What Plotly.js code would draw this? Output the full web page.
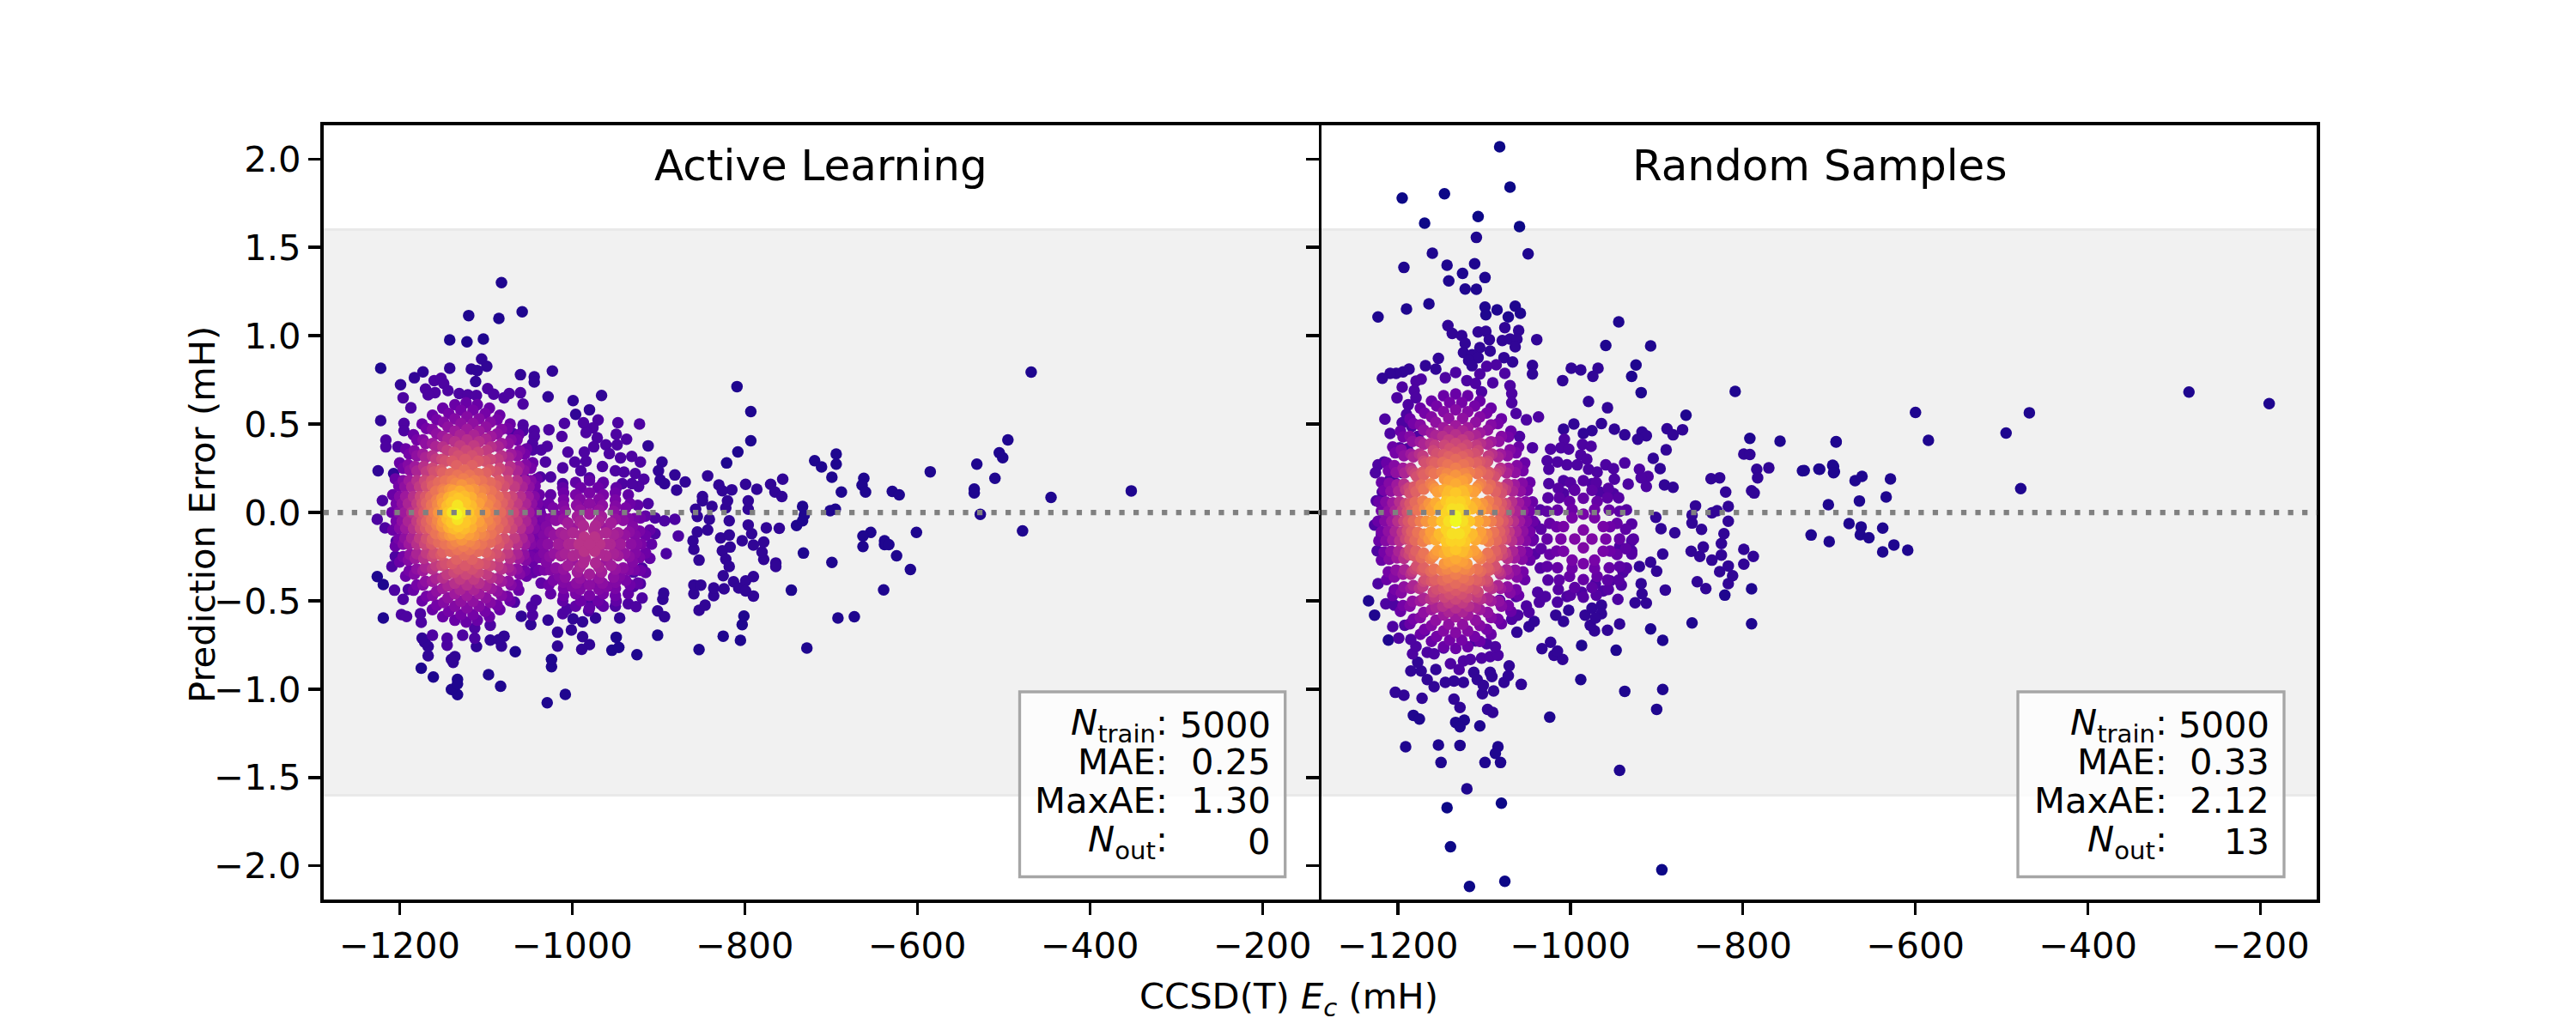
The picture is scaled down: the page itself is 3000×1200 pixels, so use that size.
<!DOCTYPE html>
<html>
<head>
<meta charset="utf-8">
<script src="https://cdn.plot.ly/plotly-3.0.1.min.js"></script>
<style>html,body{margin:0;padding:0;background:#fff}</style>
</head>
<body>
<div id="chart" style="width:3000px;height:1200px"></div>
<script>
// values, [CCSD(T) Ec, error] in mH, one list per colour level
const xTicks = [-1200, -1000, -800, -600, -400, -200];
const yTicks = [-2, -1.5, -1, -0.5, 0, 0.5, 1, 1.5, 2];
const bandLimit = 1.6;

const activeFar = [[-1082,1.30],[-1120,1.114],[-1085,1.098],[-1058,1.135],[-1142,.976],[-1122,.965],[-1103,.981],[-1222,.816],[-809,.712],[-793,.571],[-793,.406],[-808,.342],[-821,.28],[-468,.794],[-495,.41],[-505,.338],[-501,.31],[-531,.273],[-510,.193],[-534,.132],[-534,.111],[-585,.23],[-445,.085],[-352,.122],[-478,-.104],[-527,-.011],[-662,.193],[-664,.154],[-660,.115],[-629,.119],[-621,.1],[-601,-.113],[-654,-.113],[-663,-.134],[-663,-.193],[-638,-.16],[-638,-.182],[-633,-.182],[-624,-.245],[-608,-.323],[-639,-.438],[-673,-.59],[-692,-.597],[-1029,-1.077],[-1008,-1.03],[-1133,-1.031],[-1140,-1.002],[-1133,-.945],[-1133,-.97],[-1083,-.983],[-1097,-.918],[-1161,-.931],[-1175,-.881],[-1024,-.873],[-1024,-.832],[-1066,-.788],[-1219,-.597],[-954,-.78],[-946,-.764],[-949,-.706],[-925,-.805],[-901,-.695],[-853,-.776],[-825,-.70],[-805,-.724],[-803,-.635],[-801,-.586],[-728,-.767],[-746,-.44],[-732,-.23],[-699,-.283],[-719,.293],[-711,.257],[-694,.330],[-694,.273],[-699,.199],[-701,.01],[-695,.018],[-740,-.074],[-733,-.047],[-731,-.015],[-733,.034],[-688,.115],[-1226,-.363],[-1219,-.408]];
const activeEdge = [[-1105,.868],[-1099,.827],[-1142,.816],[-1117,.811],[-1110,.803],[-1112,.741],[-1173,.795],[-1183,.762],[-1199,.722],[-1060,.779],[-1044,.767],[-1044,.738],[-1023,.800],[-1028,.654],[-999,.633],[-966,.662],[-980,.581],[-996,.555],[-1222,.520],[-1225,.236],[-1207,.220],[-912,.377],[-896,.285],[-900,.236],[-898,.184],[-893,.163],[-881,.212],[-869,.172],[-879,.126],[-843,.207],[-830,.155],[-815,.128],[-799,.159],[-786,.131],[-770,.159],[-756,.188],[-765,.115],[-757,.09],[-849,.09],[-826,.123],[-1167,-.811],[-1138,-.849],[-1136,-.816],[-1140,-.832],[-1111,-.759],[-1082,-.756],[-1095,-.722],[-1079,-.70],[-1085,-.72],[-1167,-.759],[-1171,-.735],[-1174,-.711],[-1059,-.588],[-1048,-.635],[-1028,-.609],[-1017,-.678],[-1001,-.665],[-1017,-.756],[-988,-.703],[-980,-.748],[-989,-.775],[-999,-.602],[-988,-.619],[-973,-.597],[-945,-.597],[-901,-.557],[-893,-.59],[-895,-.492],[-894,-.457],[-853,-.554],[-846,-.525],[-859,-.46],[-859,-.411],[-851,-.411],[-836,-.471],[-836,-.427],[-824,-.432],[-813,-.392],[-807,-.427],[-799,-.387],[-790,-.363],[-799,-.444],[-790,-.473],[-764,-.286],[-764,-.306],[-778,-.266],[-780,-.225],[-778,-.168],[-790,-.185],[-803,-.16],[-792,-.12],[-796,-.071],[-796,.018],[-796,.066],[-775,-.087],[-760,-.09],[-853,-.27],[-859,-.209],[-860,-.16],[-855,-.11],[-843,-.1],[-828,-.144],[-818,-.128],[-817,-.196],[-826,-.217],[-822,-.265],[-818,-.306],[-825,-.358],[-857,.018],[-855,-.023],[-849,.066],[-838,.034],[-841,-.039],[-822,.026],[-820,.066],[-818,-.047]];
const activeInner = [[-1160,.746],[-1152,.759],[-1149,.730],[-1196,.649],[-1170,.698],[-1159,.678],[-1167,.665],[-1144,.690],[-1131,.673],[-1121,.665],[-1111,.662],[-1098,.701],[-1091,.669],[-1079,.649],[-1073,.673],[-1060,.677],[-1057,.613],[-1187,.592],[-1195,.504],[-1195,.463],[-1216,.409],[-1216,.371],[-1202,.371],[-1009,.504],[-987,.507],[-970,.523],[-976,.479],[-984,.452],[-971,.422],[-947,.508],[-922,.500],[-949,.442],[-937,.414],[-1027,.468],[-1012,.430],[-1057,.495],[-1057,.463],[-1044,.463],[-1044,.430],[-1069,.447],[-1046,.390],[-1046,.353],[-1036,.353],[-1029,.374],[-1005,.341],[-986,.341],[-975,.371],[-961,.382],[-957,.333],[-948,.382],[-944,.309],[-931,.317],[-921,.285],[-1046,.28],[-1031,.285],[-1037,.2],[-1025,.2],[-1053,.25],[-1057,.21],[-1011,.252],[-997,.285],[-990,.236],[-984,.29],[-965,.26],[-950,.236],[-940,.228],[-927,.22],[-917,.188],[-923,.147],[-1011,.163],[-980,.195],[-965,.163],[-942,.163],[-931,.163],[-1198,-.578],[-1192,-.589],[-1175,-.622],[-1176,-.573],[-1162,-.695],[-1145,-.751],[-1145,-.711],[-1127,-.695],[-1113,-.711],[-1113,-.654],[-1206,-.44],[-1196,-.492],[-1190,-.436],[-1217,-.087],[-1226,-.039],[-1204,-.163],[-1205,-.249],[-1209,-.306],[-1220,.067],[-1095,-.638],[-1046,-.581],[-1047,-.533],[-1042,-.497],[-1067,-.508],[-1011,-.573],[-1006,-.546],[-981,-.557],[-967,-.517],[-978,-.504],[-950,-.53],[-935,-.517],[-926,-.533],[-919,-.484],[-881,-.039],[-893,-.047],[-904,-.031],[-877,-.133],[-891,-.233],[-904,-.12],[-912,.05],[-919,-.314],[-929,-.338],[-929,-.419],[-921,-.403]];

const activeLow = [[-1037,0],[-1038,.10],[-1041,.19],[-1046,.28],[-1053,.36],[-1062,.44],[-1072,.50],[-1084,.55],[-1096,.59],[-1110,.61],[-1123,.62],[-1136,.61],[-1150,.59],[-1162,.55],[-1174,.50],[-1184,.44],[-1193,.36],[-1200,.28],[-1205,.19],[-1208,.10],[-1209,0],[-1208,-.10],[-1205,-.19],[-1200,-.28],[-1193,-.36],[-1184,-.44],[-1174,-.50],[-1162,-.55],[-1150,-.59],[-1136,-.61],[-1123,-.62],[-1110,-.61],[-1096,-.59],[-1084,-.55],[-1072,-.50],[-1062,-.44],[-1053,-.36],[-1046,-.28],[-1041,-.19],[-1038,-.10]];
const activeFill23 = [[-1040,.05],[-1043,.15],[-1048,.25],[-1055,.33],[-1064,.41],[-1075,.475],[-1087,.525],[-1101,.56],[-1115,.578],[-1204,.05],[-1201,.15],[-1196,.25],[-1189,.33],[-1180,.41],[-1169,.475],[-1157,.525],[-1143,.56],[-1129,.578],[-1204,-.05],[-1201,-.15],[-1196,-.25],[-1189,-.33],[-1180,-.41],[-1169,-.475],[-1157,-.525],[-1143,-.56],[-1129,-.578],[-1040,-.05],[-1043,-.15],[-1048,-.25],[-1055,-.33],[-1064,-.41],[-1075,-.475],[-1087,-.525],[-1101,-.56],[-1115,-.578]];
const activeRing27 = [[-1043,0],[-1044,.09],[-1048,.18],[-1054,.27],[-1061,.35],[-1071,.41],[-1082,.47],[-1095,.51],[-1108,.53],[-1122,.54],[-1136,.53],[-1149,.51],[-1162,.47],[-1173,.41],[-1183,.35],[-1190,.27],[-1196,.18],[-1200,.09],[-1201,0],[-1200,-.09],[-1196,-.18],[-1190,-.27],[-1183,-.35],[-1173,-.41],[-1162,-.47],[-1149,-.51],[-1136,-.53],[-1122,-.54],[-1108,-.53],[-1095,-.51],[-1082,-.47],[-1071,-.41],[-1061,-.35],[-1054,-.27],[-1048,-.18],[-1044,-.09]];
const activeFill30 = [[-1047,.05],[-1050,.146],[-1056,.238],[-1064,.32],[-1074,.39],[-1087,.445],[-1100,.483],[-1115,.503],[-1197,.05],[-1194,.146],[-1188,.238],[-1180,.32],[-1170,.39],[-1157,.445],[-1144,.483],[-1129,.503],[-1197,-.05],[-1194,-.146],[-1188,-.238],[-1180,-.32],[-1170,-.39],[-1157,-.445],[-1144,-.483],[-1129,-.503],[-1047,-.05],[-1050,-.146],[-1056,-.238],[-1064,-.32],[-1074,-.39],[-1087,-.445],[-1100,-.483],[-1115,-.503]];
const activeRing34 = [[-1050,0],[-1051,.09],[-1055,.18],[-1062,.26],[-1071,.33],[-1082,.39],[-1094,.43],[-1108,.46],[-1122,.47],[-1136,.46],[-1150,.43],[-1162,.39],[-1173,.33],[-1182,.26],[-1189,.18],[-1193,.09],[-1194,0],[-1193,-.09],[-1189,-.18],[-1182,-.26],[-1173,-.33],[-1162,-.39],[-1150,-.43],[-1136,-.46],[-1122,-.47],[-1108,-.46],[-1094,-.43],[-1082,-.39],[-1071,-.33],[-1062,-.26],[-1055,-.18],[-1051,-.09]];
const activeFill38 = [[-1054,.05],[-1058,.145],[-1064,.234],[-1074,.311],[-1086,.373],[-1100,.415],[-1114,.437],[-1190,.05],[-1186,.145],[-1180,.234],[-1170,.311],[-1158,.373],[-1144,.415],[-1130,.437],[-1190,-.05],[-1186,-.145],[-1180,-.234],[-1170,-.311],[-1158,-.373],[-1144,-.415],[-1130,-.437],[-1054,-.05],[-1058,-.145],[-1064,-.234],[-1074,-.311],[-1086,-.373],[-1100,-.415],[-1114,-.437]];
const activeRing42 = [[-1058,0],[-1060,.09],[-1064,.18],[-1072,.26],[-1082,.32],[-1094,.37],[-1108,.40],[-1122,.41],[-1136,.40],[-1150,.37],[-1162,.32],[-1172,.26],[-1180,.18],[-1184,.09],[-1186,0],[-1184,-.09],[-1180,-.18],[-1172,-.26],[-1162,-.32],[-1150,-.37],[-1136,-.40],[-1122,-.41],[-1108,-.40],[-1094,-.37],[-1082,-.32],[-1072,-.26],[-1064,-.18],[-1060,-.09]];
const activeFill46 = [[-1064,.05],[-1067,.146],[-1075,.231],[-1086,.301],[-1099,.351],[-1114,.377],[-1180,.05],[-1177,.146],[-1169,.231],[-1158,.301],[-1145,.351],[-1130,.377],[-1180,-.05],[-1177,-.146],[-1169,-.231],[-1158,-.301],[-1145,-.351],[-1130,-.377],[-1064,-.05],[-1067,-.146],[-1075,-.231],[-1086,-.301],[-1099,-.351],[-1114,-.377]];
const activeRing50 = [[-1068,0],[-1070,.09],[-1075,.18],[-1084,.25],[-1095,.30],[-1109,.34],[-1123,.35],[-1137,.34],[-1151,.30],[-1162,.25],[-1171,.18],[-1176,.09],[-1178,0],[-1176,-.09],[-1171,-.18],[-1162,-.25],[-1151,-.30],[-1137,-.34],[-1123,-.35],[-1109,-.34],[-1095,-.30],[-1084,-.25],[-1075,-.18],[-1070,-.09]];
const activeFill53 = [[-1074,.05],[-1079,.148],[-1088,.23],[-1101,.29],[-1116,.32],[-1174,.05],[-1169,.148],[-1160,.23],[-1147,.29],[-1132,.32],[-1174,-.05],[-1169,-.148],[-1160,-.23],[-1147,-.29],[-1132,-.32],[-1074,-.05],[-1079,-.148],[-1088,-.23],[-1101,-.29],[-1116,-.32]];
const activeRing56 = [[-1076,0],[-1078,.09],[-1085,.18],[-1096,.24],[-1109,.29],[-1124,.30],[-1139,.29],[-1152,.24],[-1163,.18],[-1170,.09],[-1172,0],[-1170,-.09],[-1163,-.18],[-1152,-.24],[-1139,-.29],[-1124,-.30],[-1109,-.29],[-1096,-.24],[-1085,-.18],[-1078,-.09]];
const activeFill59 = [[-1081,.053],[-1088,.15],[-1100,.224],[-1116,.265],[-1169,.053],[-1162,.15],[-1150,.224],[-1134,.265],[-1169,-.053],[-1162,-.15],[-1150,-.224],[-1134,-.265],[-1081,-.053],[-1088,-.15],[-1100,-.224],[-1116,-.265]];
const activeRing62 = [[-1083,0],[-1086,.09],[-1095,.17],[-1109,.22],[-1125,.24],[-1141,.22],[-1155,.17],[-1164,.09],[-1167,0],[-1164,-.09],[-1155,-.17],[-1141,-.22],[-1125,-.24],[-1109,-.22],[-1095,-.17],[-1086,-.09]];
const activeFill65 = [[-1089,.042],[-1094,.12],[-1105,.179],[-1119,.21],[-1163,.042],[-1158,.12],[-1147,.179],[-1133,.21],[-1163,-.042],[-1158,-.12],[-1147,-.179],[-1133,-.21],[-1089,-.042],[-1094,-.12],[-1105,-.179],[-1119,-.21]];
const activeRing68 = [[-1092,0],[-1095,.07],[-1102,.13],[-1113,.18],[-1126,.19],[-1139,.18],[-1150,.13],[-1157,.07],[-1160,0],[-1157,-.07],[-1150,-.13],[-1139,-.18],[-1126,-.19],[-1113,-.18],[-1102,-.13],[-1095,-.07]];
const activeFill71 = [[-1098,.044],[-1106,.12],[-1119,.164],[-1156,.044],[-1148,.12],[-1135,.164],[-1156,-.044],[-1148,-.12],[-1135,-.164],[-1098,-.044],[-1106,-.12],[-1119,-.164]];
const activeRing75 = [[-1101,0],[-1105,.08],[-1114,.13],[-1128,.155],[-1142,.13],[-1151,.08],[-1155,0],[-1151,-.08],[-1142,-.13],[-1128,-.155],[-1114,-.13],[-1105,-.08]];
const activeFill78 = [[-1108,.052],[-1120,.125],[-1150,.052],[-1138,.125],[-1150,-.052],[-1138,-.125],[-1108,-.052],[-1120,-.125]];
const activeRing82 = [[-1111,0],[-1117,.085],[-1130,.12],[-1143,.085],[-1149,0],[-1143,-.085],[-1130,-.12],[-1117,-.085]];
const activeFill85 = [[-1117,.038],[-1125,.092],[-1145,.038],[-1137,.092],[-1145,-.038],[-1137,-.092],[-1117,-.038],[-1125,-.092]];
const activeRing88 = [[-1120,0],[-1124,.057],[-1132,.08],[-1140,.057],[-1144,0],[-1140,-.057],[-1132,-.08],[-1124,-.057]];
const activeRing95 = [[-1128,0],[-1133,.04],[-1139,0],[-1133,-.04]];
const activeCore = [[-1134,-.01]];

const activeSide18 = [[-908,-.18],[-910,-.10],[-915,-.02],[-924,.04],[-935,.10],[-949,.14],[-964,.17],[-980,.18],[-996,.17],[-1011,.14],[-1025,.10],[-1036,.04],[-1045,-.02],[-1050,-.10],[-1052,-.18],[-1050,-.26],[-1045,-.34],[-1036,-.40],[-1025,-.46],[-1011,-.50],[-996,-.53],[-980,-.54],[-964,-.53],[-949,-.50],[-935,-.46],[-924,-.40],[-915,-.34],[-910,-.26]];
const activeSide21 = [[-915,-.13],[-921,-.032],[-933,.05],[-950,.11],[-970,.14],[-1045,-.13],[-1039,-.032],[-1027,.05],[-1010,.11],[-990,.14],[-1045,-.23],[-1039,-.328],[-1027,-.41],[-1010,-.47],[-990,-.50],[-915,-.23],[-921,-.328],[-933,-.41],[-950,-.47],[-970,-.50]];
const activeSide24 = [[-920,-.18],[-922,-.105],[-928,-.035],[-938,.025],[-950,.07],[-964,.10],[-980,.11],[-996,.10],[-1010,.07],[-1022,.025],[-1032,-.035],[-1038,-.105],[-1040,-.18],[-1038,-.255],[-1032,-.325],[-1022,-.385],[-1010,-.43],[-996,-.46],[-980,-.47],[-964,-.46],[-950,-.43],[-938,-.385],[-928,-.325],[-922,-.255]];
const activeSide27 = [[-927,-.13],[-935,-.035],[-950,.036],[-969,.075],[-1033,-.13],[-1025,-.035],[-1010,.036],[-991,.075],[-1033,-.23],[-1025,-.325],[-1010,-.396],[-991,-.435],[-927,-.23],[-935,-.325],[-950,-.396],[-969,-.435],[-1015,-.02],[-945,-.02],[-1030,-.08],[-930,-.08],[-1035,-.18],[-925,-.18],[-1030,-.28],[-930,-.28],[-1015,-.36],[-945,-.36],[-990,.02],[-970,.02],[-990,-.39],[-970,-.39],[-1000,-.42],[-960,-.42]];
const activeSide29 = [[-932,-.18],[-934,-.11],[-941,-.045],[-952,.006],[-965,.04],[-980,.05],[-995,.04],[-1008,.006],[-1019,-.045],[-1026,-.11],[-1028,-.18],[-1026,-.25],[-1019,-.315],[-1008,-.366],[-995,-.40],[-980,-.41],[-965,-.40],[-952,-.366],[-941,-.315],[-934,-.25]];
const activeSide31 = [[-939,-.128],[-950,-.039],[-969,.013],[-1021,-.128],[-1010,-.039],[-991,.013],[-1021,-.232],[-1010,-.321],[-991,-.373],[-939,-.232],[-950,-.321],[-969,-.373]];
const activeSide33 = [[-990,-.06],[-970,-.06],[-1000,-.09],[-960,-.09],[-1010,-.15],[-950,-.15],[-1010,-.21],[-950,-.21],[-1000,-.27],[-960,-.27],[-990,-.30],[-970,-.30]];
const activeSide34 = [[-944,-.18],[-947,-.115],[-955,-.06],[-966,-.023],[-980,-.01],[-994,-.023],[-1005,-.06],[-1013,-.115],[-1016,-.18],[-1013,-.245],[-1005,-.30],[-994,-.337],[-980,-.35],[-966,-.337],[-955,-.30],[-947,-.245]];
const activeSide36 = [[-952,-.126],[-969,-.051],[-1008,-.126],[-991,-.051],[-1008,-.234],[-991,-.309],[-952,-.234],[-969,-.309]];
const activeSide38 = [[-956,-.18],[-961,-.115],[-973,-.075],[-987,-.075],[-999,-.115],[-1004,-.18],[-999,-.245],[-987,-.285],[-973,-.285],[-961,-.245],[-990,-.13],[-970,-.13],[-992,-.23],[-968,-.23],[-975,-.1],[-985,-.26],[-1000,-.18],[-960,-.18]];
const activeSide42 = [[-968,-.18],[-974,-.14],[-986,-.14],[-992,-.18],[-986,-.22],[-974,-.22],[-980,-.18]];

const randomFar = [[-1082,2.069],[-1070,1.841],[-1195,1.779],[-1146,1.803],[-1169,1.637],[-1107,1.674],[-1059,1.617],[-1117,-2.116],[-1076,-2.087],[-894,-2.022],[-1139,-1.892],[-1143,-1.671],[-1080,-1.645]];
const randomOuter = [[-1109,1.556],[-1049,1.463],[-1160,1.467],[-1143,1.399],[-1111,1.407],[-1193,1.386],[-1125,1.353],[-1099,1.329],[-1141,1.31],[-1122,1.264],[-1109,1.263],[-1164,1.18],[-1190,1.151],[-1223,1.106],[-1099,1.162],[-1098,1.118],[-1085,1.146],[-1064,1.167],[-1058,1.127],[-1072,1.106],[-944,1.078],[-959,.945],[-907,.942],[-924,.834],[-929,.77],[-918,.678],[-866,.55],[-809,.685],[-792,.419],[-757,.403],[-1120,-1.564],[-943,-1.459],[-1191,-1.326],[-1153,-1.316],[-1128,-1.318],[-1150,-1.415],[-1099,-1.415],[-1081,-1.415],[-1084,-1.326],[-1087,-1.363],[-1024,-1.158],[-900,-1.114],[-893,-1.002],[-937,-1.012],[-988,-.946],[-1182,-1.148],[-1175,-1.169],[-1133,-1.188],[-1123,-1.175],[-1128,-1.213],[-1105,-1.208],[-859,-.625],[-790,-.63],[-790,-.432],[-821,-.468],[-283,.681],[-190,.616],[-468,.564],[-495,.449],[-478,.135],[-600,.566],[-585,.408],[-692,.401],[-712,.245],[-729,.237],[-696,.267],[-694,.23],[-670,.18],[-662,.204],[-629,.189],[-634,.087],[-665,.065],[-701,.044],[-677,-.063],[-663,-.082],[-638,-.089],[-664,-.126],[-654,-.143],[-721,-.128],[-700,-.165],[-625,-.184],[-638,-.223],[-609,-.214],[-731,.236],[-711,.244],[-695,.26],[-695,.225],[-692,.398],[-1234,-.5],[-1227,-.581],[-1211,-.722],[-907,-.659],[-893,-.724],[-947,-.78],[-987,-.753]];
const randomEdge = [[-1076,1.046],[-1142,1.057],[-1137,1.013],[-1107,1.021],[-1098,1.025],[-1060,1.03],[-1039,.978],[-1126,1.0],[-1094,.978],[-1079,.973],[-1070,.981],[-1062,.981],[-1122,.957],[-1105,.932],[-1093,.913],[-1064,.937],[-1124,.905],[-1114,.892],[-1107,.876],[-1077,.876],[-1067,.851],[-1118,.86],[-1114,.83],[-1153,.872],[-1168,.83],[-1156,.811],[-1187,.811],[-1194,.795],[-1202,.787],[-1209,.787],[-1218,.759],[-1044,.832],[-1044,.783],[-1009,.746],[-999,.816],[-988,.806],[-968,.816],[-974,.77],[-979,.628],[-957,.592],[-964,.503],[-996,.50],[-1008,.471],[-975,.463],[-985,.447],[-949,.471],[-937,.439],[-917,.455],[-912,.434],[-922,.414],[-888,.474],[-881,.439],[-870,.468],[-889,.354],[-904,.306],[-896,.248],[-837,.191],[-827,.196],[-799,.33],[-792,.328],[-770,.252],[-784,.244],[-783,.196],[-820,.115],[-790,.123],[-787,.11],[-891,.155],[-881,.142],[-1096,-1.115],[-1090,-1.132],[-1128,-1.104],[-1135,-1.056],[-1172,-1.051],[-1203,-1.018],[-1193,-1.034],[-1102,-1.026],[-1089,-1.01],[-1077,-.962],[-1057,-.973],[-1072,-.924],[-1071,-.868],[-1093,-.905],[-1091,-.929],[-1112,-.905],[-1124,-.962],[-1108,-.946],[-1101,-.978],[-1135,-.954],[-1145,-.962],[-1158,-.986],[-1166,-.946],[-1185,-.897],[-1173,-.897],[-1156,-.889],[-1177,-.848],[-1062,-.678],[-1048,-.646],[-1042,-.617],[-1033,-.771],[-1023,-.735],[-1019,-.808],[-1009,-.832],[-1015,-.784],[-943,-.631],[-957,-.667],[-972,-.67],[-977,-.638],[-983,-.581],[-975,-.541],[-964,-.525],[-964,-.573],[-971,-.597],[-1008,-.617],[-1002,-.554],[-1017,-.581],[-890,-.439],[-912,-.513],[-925,-.511],[-917,-.46],[-918,-.403],[-900,-.333],[-920,-.306],[-907,-.282],[-893,-.236],[-853,-.392],[-843,-.431],[-817,-.403],[-812,-.358],[-827,-.335],[-817,-.303],[-825,-.241],[-825,-.176],[-822,-.12],[-836,-.27],[-850,-.249],[-860,-.22],[-846,-.196],[-799,-.293],[-788,-.249],[-799,-.209],[-848,-.096],[-859,-.06],[-859,-.015],[-855,.037],[-836,-.002],[-830,.01],[-817,.034],[-817,-.05],[-879,-.115],[-895,-.092],[-901,-.028]];
const randomInner = [[-1076,.787],[-1086,.835],[-1097,.827],[-1105,.783],[-1133,.792],[-1173,.754],[-1179,.743],[-1145,.762],[-1120,.746],[-1110,.73],[-1090,.733],[-1070,.717],[-1195,.709],[-1201,.649],[-1181,.69],[-1179,.649],[-1068,.673],[-1103,.682],[-1068,.62],[-1188,.609],[-1190,.555],[-1215,.528],[-1195,.507],[-1184,.487],[-1209,.447],[-1177,.43],[-1037,.54],[-1051,.524],[-1063,.56],[-1059,.43],[-1044,.366],[-1198,.366],[-1189,.361],[-1216,.285],[-1223,.269],[-1226,.225],[-1209,.188],[-1202,.163],[-1218,.115],[-1195,.225],[-1007,.414],[-986,.385],[-976,.374],[-1023,.358],[-1011,.366],[-1002,.358],[-988,.325],[-981,.301],[-1027,.293],[-1015,.285],[-1004,.269],[-992,.269],[-959,.269],[-950,.248],[-937,.28],[-920,.244],[-979,.244],[-969,.228],[-933,.16],[-910,.204],[-918,.196],[-949,.188],[-912,.147],[-1025,.244],[-1025,.163],[-1008,.18],[-996,.134],[-1008,.107],[-975,.163],[-966,.115],[-950,.107],[-1183,-.8],[-1179,-.759],[-1166,-.792],[-1158,-.8],[-1185,-.719],[-1199,-.711],[-1206,-.646],[-1192,-.638],[-1169,-.67],[-1147,-.767],[-1139,-.856],[-1129,-.889],[-1124,-.84],[-1116,-.832],[-1103,-.824],[-1093,-.816],[-1084,-.808],[-1087,-.76],[-1097,-.743],[-1110,-.727],[-1214,-.517],[-1204,-.525],[-1223,-.403],[-1204,-.439],[-1227,-.071],[-1219,-.128],[-1224,-.217],[-1209,-.249],[-1225,.066],[-1048,-.565],[-1051,-.529],[-1068,-.605],[-1061,-.581],[-1063,-.476],[-1082,-.497],[-1015,-.508],[-1004,-.476],[-987,-.452],[-1036,-.508],[-1029,-.476],[-1038,-.452],[-945,-.492],[-962,-.444],[-954,-.387],[-971,-.403],[-929,-.217],[-929,-.16],[-943,-.193],[-939,-.338],[-941,-.411]];

const randomRing20 = [[-1043,-.05],[-1044,.06],[-1047,.17],[-1053,.28],[-1060,.37],[-1069,.46],[-1080,.53],[-1092,.59],[-1105,.63],[-1119,.66],[-1133,.67],[-1147,.66],[-1161,.63],[-1174,.59],[-1186,.53],[-1197,.46],[-1206,.37],[-1213,.28],[-1219,.17],[-1222,.06],[-1223,-.05],[-1222,-.16],[-1219,-.27],[-1213,-.38],[-1206,-.47],[-1197,-.56],[-1186,-.63],[-1174,-.69],[-1161,-.73],[-1147,-.76],[-1133,-.77],[-1119,-.76],[-1105,-.73],[-1092,-.69],[-1080,-.63],[-1069,-.56],[-1060,-.47],[-1053,-.38],[-1047,-.27],[-1044,-.16]];
const randomFill23 = [[-1047,.009],[-1050,.125],[-1055,.236],[-1063,.337],[-1072,.427],[-1084,.503],[-1097,.562],[-1111,.602],[-1126,.622],[-1219,.009],[-1216,.125],[-1211,.236],[-1203,.337],[-1194,.427],[-1182,.503],[-1169,.562],[-1155,.602],[-1140,.622],[-1219,-.109],[-1216,-.225],[-1211,-.336],[-1203,-.437],[-1194,-.527],[-1182,-.603],[-1169,-.662],[-1155,-.702],[-1140,-.722],[-1047,-.109],[-1050,-.225],[-1055,-.336],[-1063,-.437],[-1072,-.527],[-1084,-.603],[-1097,-.662],[-1111,-.702],[-1126,-.722]];
const randomRing27 = [[-1051,-.05],[-1052,.06],[-1056,.165],[-1062,.265],[-1070,.355],[-1080,.43],[-1092,.495],[-1105,.54],[-1119,.57],[-1133,.58],[-1147,.57],[-1161,.54],[-1174,.495],[-1186,.43],[-1196,.355],[-1204,.265],[-1210,.165],[-1214,.06],[-1215,-.05],[-1214,-.16],[-1210,-.265],[-1204,-.365],[-1196,-.455],[-1186,-.53],[-1174,-.595],[-1161,-.64],[-1147,-.67],[-1133,-.68],[-1119,-.67],[-1105,-.64],[-1092,-.595],[-1080,-.53],[-1070,-.455],[-1062,-.365],[-1056,-.265],[-1052,-.16]];
const randomFill30 = [[-1055,.007],[-1058,.12],[-1064,.226],[-1073,.321],[-1083,.402],[-1096,.466],[-1110,.51],[-1125,.532],[-1211,.007],[-1208,.12],[-1202,.226],[-1193,.321],[-1183,.402],[-1170,.466],[-1156,.51],[-1141,.532],[-1211,-.107],[-1208,-.22],[-1202,-.326],[-1193,-.421],[-1183,-.502],[-1170,-.566],[-1156,-.61],[-1141,-.632],[-1055,-.107],[-1058,-.22],[-1064,-.326],[-1073,-.421],[-1083,-.502],[-1096,-.566],[-1110,-.61],[-1125,-.632]];
const randomRing34 = [[-1059,-.05],[-1060,.055],[-1065,.157],[-1072,.25],[-1081,.33],[-1092,.40],[-1105,.45],[-1119,.48],[-1133,.49],[-1147,.48],[-1161,.45],[-1174,.40],[-1185,.33],[-1194,.25],[-1201,.157],[-1206,.055],[-1207,-.05],[-1206,-.155],[-1201,-.257],[-1194,-.35],[-1185,-.43],[-1174,-.50],[-1161,-.55],[-1147,-.58],[-1133,-.59],[-1119,-.58],[-1105,-.55],[-1092,-.50],[-1081,-.43],[-1072,-.35],[-1065,-.257],[-1060,-.155]];
const randomFill38 = [[-1063,.008],[-1067,.12],[-1074,.224],[-1084,.314],[-1096,.386],[-1110,.436],[-1125,.462],[-1203,.008],[-1199,.12],[-1192,.224],[-1182,.314],[-1170,.386],[-1156,.436],[-1141,.462],[-1203,-.108],[-1199,-.22],[-1192,-.324],[-1182,-.414],[-1170,-.486],[-1156,-.536],[-1141,-.562],[-1063,-.108],[-1067,-.22],[-1074,-.324],[-1084,-.414],[-1096,-.486],[-1110,-.536],[-1125,-.562]];
const randomRing42 = [[-1066,-.05],[-1068,.06],[-1073,.16],[-1081,.25],[-1091,.33],[-1104,.39],[-1118,.43],[-1133,.44],[-1148,.43],[-1162,.39],[-1175,.33],[-1185,.25],[-1193,.16],[-1198,.06],[-1200,-.05],[-1198,-.16],[-1193,-.26],[-1185,-.35],[-1175,-.43],[-1162,-.49],[-1148,-.53],[-1133,-.54],[-1118,-.53],[-1104,-.49],[-1091,-.43],[-1081,-.35],[-1073,-.26],[-1068,-.16]];
const randomFill46 = [[-1071,.011],[-1075,.128],[-1083,.233],[-1095,.319],[-1109,.38],[-1125,.411],[-1195,.011],[-1191,.128],[-1183,.233],[-1171,.319],[-1157,.38],[-1141,.411],[-1195,-.111],[-1191,-.228],[-1183,-.333],[-1171,-.419],[-1157,-.48],[-1141,-.511],[-1071,-.111],[-1075,-.228],[-1083,-.333],[-1095,-.419],[-1109,-.48],[-1125,-.511]];
const randomRing50 = [[-1073,-.05],[-1075,.05],[-1079,.14],[-1086,.22],[-1096,.29],[-1107,.35],[-1120,.38],[-1133,.39],[-1146,.38],[-1159,.35],[-1170,.29],[-1180,.22],[-1187,.14],[-1191,.05],[-1193,-.05],[-1191,-.15],[-1187,-.24],[-1180,-.32],[-1170,-.39],[-1159,-.45],[-1146,-.48],[-1133,-.49],[-1120,-.48],[-1107,-.45],[-1096,-.39],[-1086,-.32],[-1079,-.24],[-1075,-.15]];
const randomFill53 = [[-1077,.004],[-1080,.109],[-1088,.203],[-1098,.279],[-1111,.333],[-1126,.361],[-1189,.004],[-1186,.109],[-1178,.203],[-1168,.279],[-1155,.333],[-1140,.361],[-1189,-.104],[-1186,-.209],[-1178,-.303],[-1168,-.379],[-1155,-.433],[-1140,-.461],[-1077,-.104],[-1080,-.209],[-1088,-.303],[-1098,-.379],[-1111,-.433],[-1126,-.461]];
const randomRing56 = [[-1078,-.05],[-1080,.05],[-1085,.145],[-1094,.226],[-1105,.288],[-1119,.327],[-1133,.34],[-1147,.327],[-1161,.288],[-1172,.226],[-1181,.145],[-1186,.05],[-1188,-.05],[-1186,-.15],[-1181,-.245],[-1172,-.326],[-1161,-.388],[-1147,-.427],[-1133,-.44],[-1119,-.427],[-1105,-.388],[-1094,-.326],[-1085,-.245],[-1080,-.15]];
const randomFill59 = [[-1082,.008],[-1087,.118],[-1096,.212],[-1109,.28],[-1125,.316],[-1184,.008],[-1179,.118],[-1170,.212],[-1157,.28],[-1141,.316],[-1184,-.108],[-1179,-.218],[-1170,-.312],[-1157,-.38],[-1141,-.416],[-1082,-.108],[-1087,-.218],[-1096,-.312],[-1109,-.38],[-1125,-.416]];
const randomRing62 = [[-1084,-.05],[-1086,.058],[-1093,.156],[-1104,.233],[-1118,.283],[-1133,.30],[-1148,.283],[-1162,.233],[-1173,.156],[-1180,.058],[-1182,-.05],[-1180,-.158],[-1173,-.256],[-1162,-.333],[-1148,-.383],[-1133,-.40],[-1118,-.383],[-1104,-.333],[-1093,-.256],[-1086,-.158]];
const randomFill65 = [[-1089,.013],[-1096,.131],[-1108,.22],[-1124,.269],[-1177,.013],[-1170,.131],[-1158,.22],[-1142,.269],[-1177,-.113],[-1170,-.231],[-1158,-.32],[-1142,-.369],[-1089,-.113],[-1096,-.231],[-1108,-.32],[-1124,-.369]];
const randomRing68 = [[-1092,-.05],[-1095,.065],[-1104,.162],[-1117,.227],[-1133,.25],[-1149,.227],[-1162,.162],[-1171,.065],[-1174,-.05],[-1171,-.165],[-1162,-.262],[-1149,-.327],[-1133,-.35],[-1117,-.327],[-1104,-.262],[-1095,-.165]];
const randomFill71 = [[-1097,.022],[-1107,.148],[-1123,.22],[-1169,.022],[-1159,.148],[-1143,.22],[-1169,-.122],[-1159,-.248],[-1143,-.32],[-1097,-.122],[-1107,-.248],[-1123,-.32]];
const randomRing75 = [[-1099,-.05],[-1102,.05],[-1109,.134],[-1120,.19],[-1133,.21],[-1146,.19],[-1157,.134],[-1164,.05],[-1167,-.05],[-1164,-.15],[-1157,-.234],[-1146,-.29],[-1133,-.31],[-1120,-.29],[-1109,-.234],[-1102,-.15]];
const randomFill78 = [[-1104,.011],[-1112,.116],[-1125,.177],[-1162,.011],[-1154,.116],[-1141,.177],[-1162,-.111],[-1154,-.216],[-1141,-.277],[-1104,-.111],[-1112,-.216],[-1125,-.277],[-1107,.033],[-1116,.123],[-1129,.168],[-1159,.033],[-1150,.123],[-1137,.168],[-1159,-.133],[-1150,-.223],[-1137,-.268],[-1107,-.133],[-1116,-.223],[-1129,-.268]];
const randomRing81 = [[-1107,-.05],[-1110,.055],[-1120,.13],[-1133,.16],[-1146,.13],[-1156,.055],[-1159,-.05],[-1156,-.155],[-1146,-.23],[-1133,-.26],[-1120,-.23],[-1110,-.155]];
const randomFill85 = [[-1114,.021],[-1125,.121],[-1152,.021],[-1141,.121],[-1152,-.121],[-1141,-.221],[-1114,-.121],[-1125,-.221],[-1116,.035],[-1123,.097],[-1150,.035],[-1143,.097],[-1150,-.135],[-1143,-.197],[-1116,-.135],[-1123,-.197]];
const randomRing88 = [[-1117,-.05],[-1122,.063],[-1133,.11],[-1144,.063],[-1149,-.05],[-1144,-.163],[-1133,-.21],[-1122,-.163]];
const randomFill91 = [[-1122,-.004],[-1128,.061],[-1144,-.004],[-1138,.061],[-1144,-.096],[-1138,-.161],[-1122,-.096],[-1128,-.161],[-1125,.02],[-1141,.02],[-1141,-.12],[-1125,-.12]];
const randomRing94 = [[-1125,-.05],[-1129,.02],[-1137,.02],[-1141,-.05],[-1137,-.12],[-1129,-.12]];
const randomCore = [[-1133,-.05],[-1133,-.02]];

const randomSide16 = [[-927,-.15],[-929,-.065],[-935,.015],[-944,.083],[-956,.136],[-970,.169],[-985,.18],[-1000,.169],[-1014,.136],[-1026,.083],[-1035,.015],[-1041,-.065],[-1043,-.15],[-1041,-.235],[-1035,-.315],[-1026,-.383],[-1014,-.436],[-1000,-.469],[-985,-.48],[-970,-.469],[-956,-.436],[-944,-.383],[-935,-.315],[-929,-.235]];
const randomSide18 = [[-936,-.095],[-943,.006],[-957,.083],[-975,.125],[-1034,-.095],[-1027,.006],[-1013,.083],[-995,.125],[-1034,-.205],[-1027,-.306],[-1013,-.383],[-995,-.425],[-936,-.205],[-943,-.306],[-957,-.383],[-975,-.425]];
const randomSide21 = [[-943,-.15],[-946,-.062],[-955,.013],[-969,.062],[-985,.08],[-1001,.062],[-1015,.013],[-1024,-.062],[-1027,-.15],[-1024,-.238],[-1015,-.313],[-1001,-.362],[-985,-.38],[-969,-.362],[-955,-.313],[-946,-.238]];
const randomSide23 = [[-954,-.081],[-972,.016],[-1016,-.081],[-998,.016],[-1016,-.219],[-998,-.316],[-954,-.219],[-972,-.316]];
const randomSide25 = [[-959,-.15],[-962,-.08],[-972,-.03],[-985,-.01],[-998,-.03],[-1008,-.08],[-1011,-.15],[-1008,-.22],[-998,-.27],[-985,-.29],[-972,-.27],[-962,-.22]];
const randomSide27 = [[-975,-.15],[-985,-.1],[-995,-.15],[-985,-.2]];

// [density 0..1, points] for each panel
const activeGroups = [[.035,activeFar],[.07,activeEdge],[.13,activeInner],[.18,activeSide18],[.2,activeLow],[.21,activeSide21],[.23,activeFill23],[.24,activeSide24],[.265,activeSide27],[.27,activeRing27],[.29,activeSide29],[.3,activeFill30],[.315,activeSide31],[.33,activeSide33],[.34,activeRing34],[.35,activeSide34],[.37,activeSide36],[.38,activeFill38],[.39,activeSide38],[.42,activeRing42],[.43,activeSide42],[.46,activeFill46],[.5,activeRing50],[.53,activeFill53],[.56,activeRing56],[.59,activeFill59],[.62,activeRing62],[.65,activeFill65],[.68,activeRing68],[.71,activeFill71],[.75,activeRing75],[.78,activeFill78],[.82,activeRing82],[.85,activeFill85],[.88,activeRing88],[.95,activeRing95],[1,activeCore]];
const randomGroups = [[.0,randomFar],[.035,randomOuter],[.07,randomEdge],[.13,randomInner],[.15,randomSide16],[.17,randomSide18],[.19,randomSide21],[.2,randomRing20],[.21,randomSide23],[.23,randomFill23],[.235,randomSide25],[.255,randomSide27],[.27,randomRing27],[.3,randomFill30],[.34,randomRing34],[.38,randomFill38],[.42,randomRing42],[.46,randomFill46],[.5,randomRing50],[.53,randomFill53],[.56,randomRing56],[.59,randomFill59],[.62,randomRing62],[.65,randomFill65],[.68,randomRing68],[.71,randomFill71],[.75,randomRing75],[.78,randomFill78],[.81,randomRing81],[.85,randomFill85],[.88,randomRing88],[.91,randomFill91],[.94,randomRing94],[1,randomCore]];

const activeStats = [['<i>N</i><sub>train</sub>:', '5000'], ['MAE:', '0.25'], ['MaxAE:', '1.30'], ['<i>N</i><sub>out</sub>:', '0']];
const randomStats = [['<i>N</i><sub>train</sub>:', '5000'], ['MAE:', '0.33'], ['MaxAE:', '2.12'], ['<i>N</i><sub>out</sub>:', '13']];

const plasmaStops = [[0,'#0d0887'],[0.1111,'#46039f'],[0.2222,'#7201a8'],[0.3333,'#9c179e'],[0.4444,'#bd3786'],[0.5556,'#d8576b'],[0.6667,'#ed7953'],[0.7778,'#fb9f3a'],[0.8889,'#fdca26'],[1,'#f0f921']];

const FONT = 'DejaVu Sans, sans-serif';
const W = 3000, H = 1200;
const px = (v) => v / W;
const py = (v) => 1 - v / H;

function scatterTrace(groups, xa, ya) {
  const pts = [];
  groups.forEach(([d, list]) => list.forEach((p) => pts.push({ x: p[0], y: p[1], d })));
  pts.sort((a, b) => a.d - b.d); // densest drawn last
  return {
    type: 'scatter', mode: 'markers', xaxis: xa, yaxis: ya, hoverinfo: 'skip', showlegend: false,
    x: pts.map((p) => p.x), y: pts.map((p) => p.y),
    marker: { size: 13.5, color: pts.map((p) => p.d), colorscale: plasmaStops, cmin: 0, cmax: 1, line: { width: 0 } },
  };
}

function xAxis(domain, range, y) {
  return {
    domain, range, anchor: y, tickvals: xTicks, ticks: 'outside', ticklen: 14.6, tickwidth: 3.3,
    tickcolor: '#000', showline: true, mirror: true, linecolor: '#000', linewidth: 3.3, showgrid: false, zeroline: false,
    tickfont: { family: FONT, size: 41.67, color: '#000' },
  };
}
function yAxis(x, labels) {
  return {
    domain: [0.12637, 0.87862], range: [-2.192, 2.192], anchor: x, tickvals: yTicks, tickformat: '.1f', ticks: 'outside', ticklen: 14.6, tickwidth: 3.3,
    tickcolor: '#000', showline: true, mirror: !labels, linecolor: '#000', linewidth: 3.3, showgrid: false, zeroline: false,
    showticklabels: labels, tickfont: { family: FONT, size: 41.67, color: '#000' },
  };
}

function panelShapes(xa, ya) {
  return [
    { type: 'rect', xref: xa + ' domain', yref: ya, x0: 0, x1: 1, y0: -bandLimit, y1: bandLimit, layer: 'below', fillcolor: '#f1f1f1', line: { color: '#e9e9e9', width: 3 } },
    { type: 'line', xref: xa + ' domain', yref: ya, x0: 0, x1: 1, y0: 0, y1: 0, layer: 'above', line: { color: '#808080', width: 6.25, dash: '6.25px,10.3px' } },
  ];
}

function statBox(x0, x1) {
  return { type: 'rect', xref: 'paper', yref: 'paper', x0: px(x0), x1: px(x1), y0: py(1021.5), y1: py(806), layer: 'above', fillcolor: 'rgba(255,255,255,0.8)', line: { color: '#a6a6a6', width: 3.3 } };
}

function statText(rows, labelRight, valueRight) {
  const rowY = [844, 887.6, 932.7, 980.4];
  const out = [];
  rows.forEach((r, i) => {
    const base = { xref: 'paper', yref: 'paper', y: py(rowY[i]), yanchor: 'middle', xanchor: 'right', showarrow: false, font: { family: FONT, size: 41.67, color: '#000' } };
    out.push({ ...base, x: px(labelRight), text: r[0] });
    out.push({ ...base, x: px(valueRight), text: r[1] });
  });
  return out;
}

function label(text, x, y, size, angle) {
  return { xref: 'paper', yref: 'paper', x: px(x), y: py(y), xanchor: 'center', yanchor: 'middle', showarrow: false, text, textangle: angle || 0, font: { family: FONT, size, color: '#000' } };
}

const layout = {
  width: W, height: H, margin: { l: 0, r: 0, t: 0, b: 0 }, paper_bgcolor: '#fff', plot_bgcolor: '#fff', showlegend: false,
  xaxis: xAxis([0.12555, 0.5125], [-1288.4, -133], 'y'), yaxis: yAxis('x', true),
  xaxis2: xAxis([0.51305, 0.89945], [-1288.4, -134.6], 'y2'), yaxis2: yAxis('x2', false),
  shapes: [...panelShapes('x', 'y'), ...panelShapes('x2', 'y2'), statBox(1187.5, 1496.7), statBox(2350, 2660)],
  annotations: [
    label('Active Learning', 956, 193, 50),
    label('Random Samples', 2119, 193, 50),
    label('CCSD(T) <i>E<sub>c</sub></i> (mH)', 1501, 1163, 41.67),
    label('Prediction Error (mH)', 235, 600, 41.67, -90),
    ...statText(activeStats, 1362, 1482),
    ...statText(randomStats, 2526, 2645),
  ],
};

Plotly.newPlot('chart', [scatterTrace(activeGroups, 'x', 'y'), scatterTrace(randomGroups, 'x2', 'y2')], layout, { staticPlot: true, displayModeBar: false });
</script>
</body>
</html>
